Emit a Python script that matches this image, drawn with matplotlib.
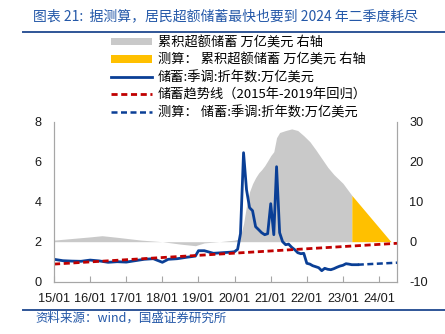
import numpy as np
import pandas as pd
import matplotlib
matplotlib.use("Agg")
import matplotlib.pyplot as plt
import matplotlib.dates as mdates
from matplotlib.lines import Line2D

plt.rcParams['font.family'] = ['Noto Sans CJK SC', 'DejaVu Sans']
plt.rcParams['axes.unicode_minus'] = False

# 储蓄:季调:折年数 (万亿美元, 左轴)
sav_dates = ["2015-01", "2015-04", "2015-07", "2015-10", "2016-01", "2016-04", "2016-07", "2016-10",
             "2017-01", "2017-04", "2017-07", "2017-10", "2018-01", "2018-03", "2018-06", "2018-09",
             "2018-12", "2019-01", "2019-03", "2019-06", "2019-09", "2019-12", "2020-01", "2020-02",
             "2020-03", "2020-04", "2020-05", "2020-06", "2020-07", "2020-08", "2020-09", "2020-10",
             "2020-11", "2020-12", "2021-01", "2021-02", "2021-03", "2021-04", "2021-05", "2021-06",
             "2021-07", "2021-08", "2021-09", "2021-10", "2021-11", "2021-12", "2022-01", "2022-02",
             "2022-03", "2022-04", "2022-05", "2022-06", "2022-07", "2022-08", "2022-09", "2022-10",
             "2022-11", "2022-12", "2023-01", "2023-02", "2023-03", "2023-04", "2023-05", "2023-06"]
sav_vals = [1.12, 1.05, 1.03, 1.02, 1.08, 1.04, 0.97, 1.00,
            0.98, 1.05, 1.12, 1.15, 0.97, 1.12, 1.15, 1.22,
            1.28, 1.55, 1.55, 1.42, 1.45, 1.48, 1.50, 1.62,
            2.40, 6.45, 4.60, 3.70, 3.55, 2.75, 2.60, 2.45,
            2.35, 2.40, 3.90, 2.35, 5.75, 2.45, 2.00, 1.85,
            1.88, 1.72, 1.60, 1.45, 1.40, 1.42, 0.92, 0.88,
            0.80, 0.75, 0.70, 0.55, 0.67, 0.62, 0.60, 0.65,
            0.72, 0.78, 0.82, 0.90, 0.88, 0.85, 0.85, 0.85]

# 测算: 储蓄
proj_dates = ["2023-06", "2024-07"]
proj_vals = [0.85, 0.95]

# 储蓄趋势线 (2015-2019 回归)
trend_dates = ["2015-01", "2024-07"]
trend_vals = [0.88, 1.92]

# 累积超额储蓄 (万亿美元, 右轴)
exc_dates = ["2015-01", "2015-07", "2016-01", "2016-05", "2016-10", "2017-06", "2018-01", "2018-07",
             "2018-12", "2019-03", "2019-08", "2020-01", "2020-02", "2020-03", "2020-04", "2020-05",
             "2020-06", "2020-07", "2020-08", "2020-09", "2020-10", "2020-11", "2020-12", "2021-01",
             "2021-02", "2021-03", "2021-04", "2021-06", "2021-08", "2021-10", "2021-12", "2022-02",
             "2022-04", "2022-06", "2022-08", "2022-10", "2023-01", "2023-04"]
exc_vals = [0.4, 0.8, 1.2, 1.5, 1.1, 0.4, 0.0, -0.6,
            -1.0, -0.3, 0.0, 0.4, 0.6, 1.5, 4.5, 9.0,
            12.5, 14.5, 16.0, 17.2, 18.0, 19.0, 20.2, 21.5,
            22.5, 26.0, 27.3, 27.8, 28.2, 27.8, 26.5, 25.0,
            23.0, 20.8, 18.6, 16.8, 14.6, 11.6]

# 测算: 累积超额储蓄
yel_dates = ["2023-04", "2024-05"]
yel_vals = [11.6, 0.0]

labels = ["累积超额储蓄 万亿美元 右轴", "测算： 累积超额储蓄 万亿美元 右轴", "储蓄:季调:折年数:万亿美元",
          "储蓄趋势线（2015年-2019年回归）", "测算： 储蓄:季调:折年数:万亿美元"]

W, H = 445, 334
fig = plt.figure(figsize=(W / 100, H / 100), dpi=100)
ax = fig.add_axes([54 / W, 1 - 281.7 / H, (396.7 - 54) / W, 160 / H])
ax2 = ax.twinx()
ax.set_zorder(ax2.get_zorder() + 1)
ax.patch.set_visible(False)

d = pd.to_datetime
g = ax2.fill_between(d(exc_dates), 0, exc_vals, color="#C9C9C9", lw=0)
y = ax2.fill_between(d(yel_dates), 0, yel_vals, color="#FFC000", lw=0)
l1, = ax.plot(d(sav_dates), sav_vals, color="#0A3F96", lw=2)
l2, = ax.plot(d(trend_dates), trend_vals, color="#C00000", lw=2, dashes=(2.2, 1.3))
l3, = ax.plot(d(proj_dates), proj_vals, color="#0A3F96", lw=1.8, dashes=(2.4, 1.4))

ax.set_xlim(d("2015-01-01"), d("2024-06-28"))
ax.set_ylim(0, 8)
ax.set_yticks([0, 2, 4, 6, 8])
ax2.set_ylim(-10, 30)
ax2.set_yticks([-10, 0, 10, 20, 30])
ax.xaxis.set_major_locator(mdates.YearLocator())
ax.xaxis.set_major_formatter(mdates.DateFormatter("%y/%m"))

spc = "#A6A6A6"
for a in (ax, ax2):
    for s in a.spines.values():
        s.set_color(spc)
        s.set_linewidth(0.8)
    a.spines["top"].set_visible(False)
ax.tick_params(axis="x", direction="in", length=4, color=spc, pad=8)
ax.tick_params(axis="y", length=0, pad=9)
ax2.tick_params(axis="y", length=0, pad=9)
for lab in ax.get_xticklabels() + ax.get_yticklabels() + ax2.get_yticklabels():
    lab.set_family("Liberation Sans")
    lab.set_fontsize(9.2)
    lab.set_color("#1A1A1A")

fig.legend([g, y, l1, l2, l3], labels, loc="upper left", bbox_to_anchor=(111 / W, 1 - 36 / H),
           frameon=False, fontsize=9.5, handlelength=3.1, handletextpad=0.45, labelspacing=0.33,
           borderpad=0, borderaxespad=0, handleheight=0.55)

blue = "#2F5597"
fig.add_artist(Line2D([23 / W, 1], [1 - 32 / H] * 2, color=blue, lw=1.4, transform=fig.transFigure))
fig.add_artist(Line2D([23 / W, 1], [1 - 310 / H] * 2, color=blue, lw=1.4, transform=fig.transFigure))
fig.text(33 / W, 1 - 16.5 / H, "图表 21:  据测算，居民超额储蓄最快也要到 2024 年二季度耗尽",
         fontsize=10, color="#2458A8", va="center", ha="left")
fig.text(35 / W, 1 - 318 / H, "资料来源：wind，国盛证券研究所", fontsize=9, color="#2458A8",
         va="center", ha="left")

fig.savefig("out.png", dpi=100)
